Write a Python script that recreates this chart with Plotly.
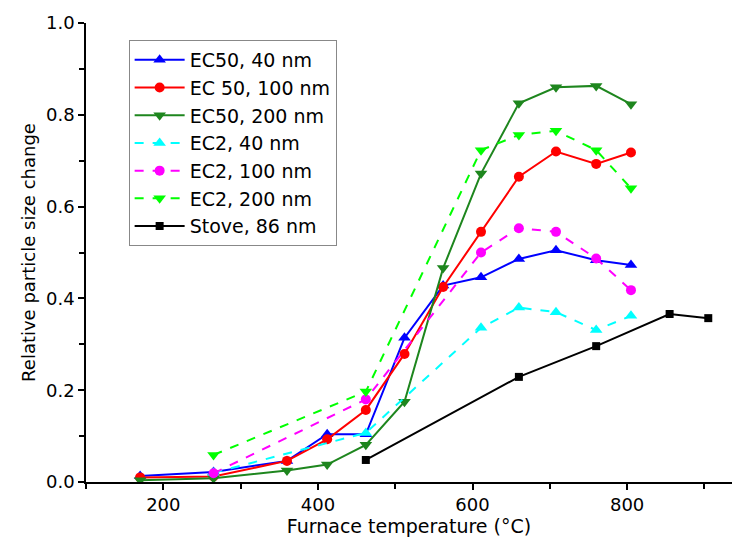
import plotly.graph_objects as go

# Temperatures (°C)
t_ec50 = [170, 265, 360, 412, 462, 512, 562, 611, 660, 708, 760, 805]
t_ec2 = [265, 462, 611, 660, 708, 760, 805]
t_stove = [462, 660, 760, 855, 905]

# Relative particle size change
ec50_40 = [0.013, 0.022, 0.046, 0.104, 0.104, 0.314, 0.428, 0.446, 0.486, 0.505, 0.483, 0.473]
ec50_100 = [0.010, 0.012, 0.046, 0.093, 0.157, 0.279, 0.425, 0.545, 0.665, 0.720, 0.693, 0.718]
ec50_200 = [0.004, 0.008, 0.025, 0.038, 0.081, 0.175, 0.466, 0.672, 0.825, 0.860, 0.863, 0.823]
ec2_40 = [0.020, 0.107, 0.336, 0.380, 0.370, 0.331, 0.362]
ec2_100 = [0.019, 0.180, 0.500, 0.553, 0.545, 0.487, 0.418]
ec2_200 = [0.059, 0.197, 0.723, 0.756, 0.765, 0.723, 0.640]
stove_86 = [0.048, 0.229, 0.296, 0.366, 0.357]

series = [
    ("EC50, 40 nm", t_ec50, ec50_40, "#0000FF", "solid", "triangle-up", 11),
    ("EC 50, 100 nm", t_ec50, ec50_100, "#FF0000", "solid", "circle", 10),
    ("EC50, 200 nm", t_ec50, ec50_200, "#1E861E", "solid", "triangle-down", 11),
    ("EC2, 40 nm", t_ec2, ec2_40, "#00FFFF", "dash", "triangle-up", 11),
    ("EC2, 100 nm", t_ec2, ec2_100, "#FF00FF", "dash", "circle", 10),
    ("EC2, 200 nm", t_ec2, ec2_200, "#00FF00", "dash", "triangle-down", 11),
    ("Stove, 86 nm", t_stove, stove_86, "#000000", "solid", "square", 8),
]

fig = go.Figure()
for name, x, y, color, dash, sym, size in series:
    fig.add_trace(go.Scatter(
        x=x, y=y, name=name, mode="lines+markers",
        line=dict(color=color, width=2, dash=dash),
        marker=dict(symbol=sym, size=size, color=color),
    ))

font_family = "DejaVu Sans, Arial, sans-serif"
fig.update_layout(
    width=732, height=544,
    margin=dict(l=86, r=0, t=23, b=62),
    paper_bgcolor="white", plot_bgcolor="white",
    font=dict(family=font_family, size=18, color="black"),
    showlegend=True,
    legend=dict(
        x=0.066, y=0.963, xanchor="left", yanchor="top",
        bgcolor="white", bordercolor="#888888", borderwidth=1,
        font=dict(size=19), tracegroupgap=0, itemwidth=50,
    ),
    xaxis=dict(
        range=[100, 935.7], tickmode="linear", tick0=200, dtick=200,
        showline=True, linecolor="black", linewidth=1.5,
        ticks="outside", ticklen=6, tickwidth=1.5, tickcolor="black",
        minor=dict(tickmode="linear", tick0=100, dtick=100, ticks="outside", ticklen=5, tickwidth=1.5, tickcolor="black"),
        showgrid=False, zeroline=False,
        title=dict(text="Furnace temperature (°C)", font=dict(size=19), standoff=4),
        tickfont=dict(size=18),
    ),
    yaxis=dict(
        range=[0, 1.0], tickmode="linear", tick0=0, dtick=0.2, tickformat=".1f",
        showline=True, linecolor="black", linewidth=1.5,
        ticks="outside", ticklen=6, tickwidth=1.5, tickcolor="black",
        minor=dict(tickmode="linear", tick0=0, dtick=0.1, ticks="outside", ticklen=5, tickwidth=1.5, tickcolor="black"),
        showgrid=False, zeroline=False,
        title=dict(text="Relative particle size change", font=dict(size=18), standoff=6),
        tickfont=dict(size=18),
    ),
)

fig.write_html("out.html")
